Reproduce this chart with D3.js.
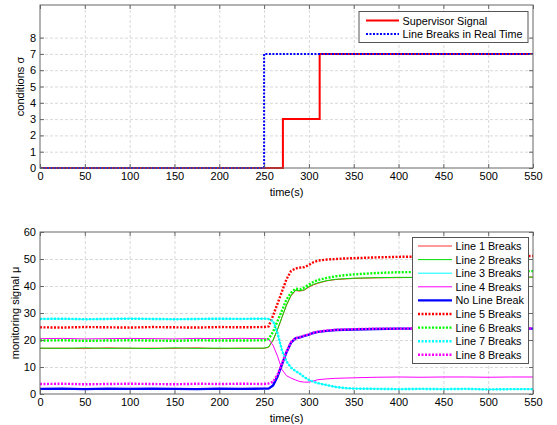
<!DOCTYPE html>
<html>
<head>
<meta charset="utf-8">
<script src="https://cdn.jsdelivr.net/npm/d3@7"></script>
<style>
body { margin: 0; background: #fff; }
text { font-family: "Liberation Sans", Arial, sans-serif; }
.grid line { stroke: #d9d9d9; stroke-dasharray: 3,2; }
.grid path { display: none; }
.ax path, .ax line { stroke: #666; }
.ax text { font-size: 11px; fill: #000; }
</style>
</head>
<body>
<script>
// top chart: step signals
var stepTime = [0, 250, 271, 312, 550];
var supervisor = [0, 0, 3, 7, 7];
var realTime = [0, 7, 7, 7, 7];

// bottom chart: monitoring signals
var time = [0,25,50,75,100,125,150,175,200,225,250,255,260,265,270,275,280,285,290,295,300,305,310,320,330,340,350,375,400,425,450,475,500,525,550];
var line1 = [16.9,17.0,16.8,17.1,16.9,17.0,16.9,17.1,16.8,17.0,16.9, 17.3,19.8,23.8,28.4,32.9,36.3,38.3,38.1,38.5,39.6,40.4,41.0,41.9,42.4,42.6,42.8,43.0,43.1,43.2,43.1,43.2,43.3,43.2,43.3];
var line2 = [17.0,16.9,17.1,16.9,17.0,16.8,17.1,16.9,17.0,16.9,17.0, 17.4,20.0,24.0,28.5,33.0,36.5,38.5,38.3,38.6,39.8,40.6,41.2,42.0,42.5,42.7,42.9,43.1,43.2,43.2,43.3,43.2,43.3,43.3,43.3];
var line3 = [27.8,27.8,27.7,27.8,27.9,27.8,27.7,27.8,27.8,27.8,27.9, 27.8,27.0,22.6,16.1,12.0,9.8,8.5,7.5,6.2,5.2,4.5,4.0,3.3,2.6,2.2,2.0,1.9,1.8,1.9,1.8,1.9,1.7,1.8,1.8];
var line4 = [20.5,20.6,20.4,20.5,20.6,20.5,20.4,20.6,20.5,20.6,20.5, 20.3,18.0,14.0,9.0,6.8,5.9,5.2,4.6,4.4,4.4,4.8,5.3,5.6,5.8,5.9,6.0,6.2,6.3,6.2,6.3,6.3,6.2,6.3,6.3];
var noBreak = [1.9,2.0,1.8,2.0,1.9,2.0,1.9,1.8,2.0,1.9,2.0, 2.0,3.2,6.5,11.0,15.5,19.0,20.6,21.0,21.5,22.0,22.6,23.0,23.4,23.7,23.8,23.9,24.1,24.2,24.2,24.3,24.2,24.2,24.3,24.2];
var line5 = [24.7,24.6,24.8,24.7,24.6,24.8,24.7,24.6,24.8,24.7,24.8, 25.0,29.0,33.5,38.0,42.5,45.5,46.5,46.8,47.0,47.8,48.8,49.4,49.8,50.0,50.2,50.3,50.6,50.8,50.9,51.0,50.9,51.0,51.0,51.1];
var line6 = [19.8,19.9,19.7,19.8,19.9,19.8,19.7,19.9,19.8,19.8,19.9, 20.4,23.0,27.0,31.0,35.0,37.5,39.0,38.8,39.5,40.5,41.5,42.2,43.0,43.6,44.0,44.3,44.8,45.1,45.2,45.3,45.4,45.4,45.5,45.5];
var line7 = [27.8,27.9,27.7,27.8,27.9,27.8,27.7,27.8,27.9,27.8,27.9, 27.8,27.0,22.5,16.0,12.0,9.8,8.5,7.5,6.2,5.2,4.5,4.0,3.3,2.6,2.2,2.0,1.9,1.8,1.9,1.8,1.9,1.7,1.8,1.8];
var line8 = [3.7,3.8,3.6,3.7,3.8,3.7,3.6,3.8,3.7,3.8,3.7, 3.9,4.5,7.2,11.4,15.7,19.2,20.7,21.1,21.6,22.1,22.7,23.1,23.5,23.8,23.9,24.0,24.2,24.2,24.3,24.3,24.3,24.2,24.3,24.3];

var xTicks = [0,50,100,150,200,250,300,350,400,450,500,550];
var topTicks = [0,1,2,3,4,5,6,7,8];
var botTicks = [0,10,20,30,40,50,60];

var svg = d3.select("body").append("svg")
    .attr("width", 557)
    .attr("height", 425);

var x = d3.scaleLinear().domain([0, 550]).range([40, 533]);
var yTop = d3.scaleLinear().domain([0, 10]).range([168, 5]);
var yBot = d3.scaleLinear().domain([0, 60]).range([394, 232]);

function drawFrame(y, ticks, y0, y1) {
    var g = svg.append("g");
    g.append("rect").attr("x", 40).attr("y", y1).attr("width", 493).attr("height", y0 - y1).attr("fill", "#fff");
    g.append("g").attr("class", "grid")
        .attr("transform", "translate(0," + y0 + ")")
        .call(d3.axisBottom(x).tickValues(xTicks.slice(1, -1)).tickSize(-(y0 - y1)).tickFormat(""));
    g.append("g").attr("class", "grid")
        .attr("transform", "translate(40,0)")
        .call(d3.axisLeft(y).tickValues(ticks.slice(1).filter(function(t){ return y(t) > y1 + 1; })).tickSize(-493).tickFormat(""));
    return g;
}

function drawAxes(y, ticks, y0, y1, label, labelX) {
    var g = svg.append("g");
    g.append("g").attr("class", "ax").attr("transform", "translate(0," + y0 + ")")
        .call(d3.axisBottom(x).tickValues(xTicks).tickSizeInner(-4).tickSizeOuter(0).tickPadding(4));
    g.append("g").attr("class", "ax").attr("transform", "translate(0," + y1 + ")")
        .call(d3.axisTop(x).tickValues(xTicks).tickSizeInner(-4).tickSizeOuter(0).tickFormat(""));
    g.append("g").attr("class", "ax").attr("transform", "translate(40,0)")
        .call(d3.axisLeft(y).tickValues(ticks).tickSizeInner(-4).tickSizeOuter(0).tickPadding(4));
    g.append("g").attr("class", "ax").attr("transform", "translate(533,0)")
        .call(d3.axisRight(y).tickValues(ticks).tickSizeInner(-4).tickSizeOuter(0).tickFormat(""));
    g.selectAll(".ax .domain").remove();
    g.append("rect").attr("x", 40).attr("y", y1).attr("width", 493).attr("height", y0 - y1)
        .attr("fill", "none").attr("stroke", "#666");
    g.append("text").attr("x", 286.5).attr("y", y0 + 28).attr("text-anchor", "middle")
        .attr("font-size", "11px").text("time(s)");
    g.append("text").attr("transform", "translate(" + labelX + "," + ((y0 + y1) / 2) + ") rotate(-90)")
        .attr("text-anchor", "middle").attr("font-size", "11px").text(label);
}

// ----- top chart -----
drawFrame(yTop, topTicks, 168, 5);
var stepLine = d3.line().curve(d3.curveStepAfter)
    .x(function(d){ return x(d[0]); })
    .y(function(d){ return yTop(d[1]); });
svg.append("path").datum(d3.zip(stepTime, supervisor))
    .attr("d", stepLine).attr("fill", "none").attr("stroke", "#ff0000").attr("stroke-width", 2);
svg.append("path").datum(d3.zip(stepTime, realTime))
    .attr("d", stepLine).attr("fill", "none").attr("stroke", "#0000ff").attr("stroke-width", 2)
    .attr("stroke-dasharray", "2,1.5");
drawAxes(yTop, topTicks, 168, 5, "conditions \u03c3", 24);

// top legend
var topLeg = [
    { name: "Supervisor Signal", color: "#ff0000", dash: null },
    { name: "Line Breaks in Real Time", color: "#0000ff", dash: "2,1.5" }
];
var lg1 = svg.append("g");
lg1.append("rect").attr("x", 359).attr("y", 11.5).attr("width", 169).attr("height", 31)
    .attr("fill", "#fff").attr("stroke", "#555");
topLeg.forEach(function(d, i) {
    var yy = 20.5 + i * 13.5;
    lg1.append("line").attr("x1", 366).attr("x2", 399).attr("y1", yy).attr("y2", yy)
        .attr("stroke", d.color).attr("stroke-width", 2).attr("stroke-dasharray", d.dash);
    lg1.append("text").attr("x", 402.5).attr("y", yy + 4).attr("font-size", "10.8px").text(d.name);
});

// ----- bottom chart -----
drawFrame(yBot, botTicks, 394, 232);
var series = [
    { name: "Line 1 Breaks", values: line1, color: "#ff3333", width: 1, dash: null },
    { name: "Line 2 Breaks", values: line2, color: "#00dd00", width: 1, dash: null },
    { name: "Line 3 Breaks", values: line3, color: "#00ffff", width: 1, dash: null },
    { name: "Line 4 Breaks", values: line4, color: "#ff00ff", width: 1, dash: null },
    { name: "No Line Break", values: noBreak, color: "#0000ff", width: 2.4, dash: null },
    { name: "Line 5 Breaks", values: line5, color: "#ff0000", width: 2.4, dash: "2,1.5" },
    { name: "Line 6 Breaks", values: line6, color: "#00ff00", width: 2.4, dash: "2,1.5" },
    { name: "Line 7 Breaks", values: line7, color: "#00ffff", width: 2.4, dash: "2,1.5" },
    { name: "Line 8 Breaks", values: line8, color: "#ff00ff", width: 2.4, dash: "2,1.5" }
];
var line = d3.line()
    .x(function(d){ return x(d[0]); })
    .y(function(d){ return yBot(d[1]); });
svg.selectAll("path.series").data(series).enter().append("path")
    .attr("class", "series")
    .attr("d", function(d){ return line(d3.zip(time, d.values)); })
    .attr("fill", "none")
    .attr("stroke", function(d){ return d.color; })
    .attr("stroke-width", function(d){ return d.width; })
    .attr("stroke-dasharray", function(d){ return d.dash; });
drawAxes(yBot, botTicks, 394, 232, "monitoring signal \u03bc", 19);

// bottom legend
var lg2 = svg.append("g");
lg2.append("rect").attr("x", 412.5).attr("y", 237.5).attr("width", 116).attr("height", 126)
    .attr("fill", "#fff").attr("stroke", "#555");
series.forEach(function(d, i) {
    var yy = 246 + i * 13.6;
    lg2.append("line").attr("x1", 418).attr("x2", 452).attr("y1", yy).attr("y2", yy)
        .attr("stroke", d.color).attr("stroke-width", d.width).attr("stroke-dasharray", d.dash);
    lg2.append("text").attr("x", 455.5).attr("y", yy + 4).attr("font-size", "10.8px").text(d.name);
});
</script>
</body>
</html>
